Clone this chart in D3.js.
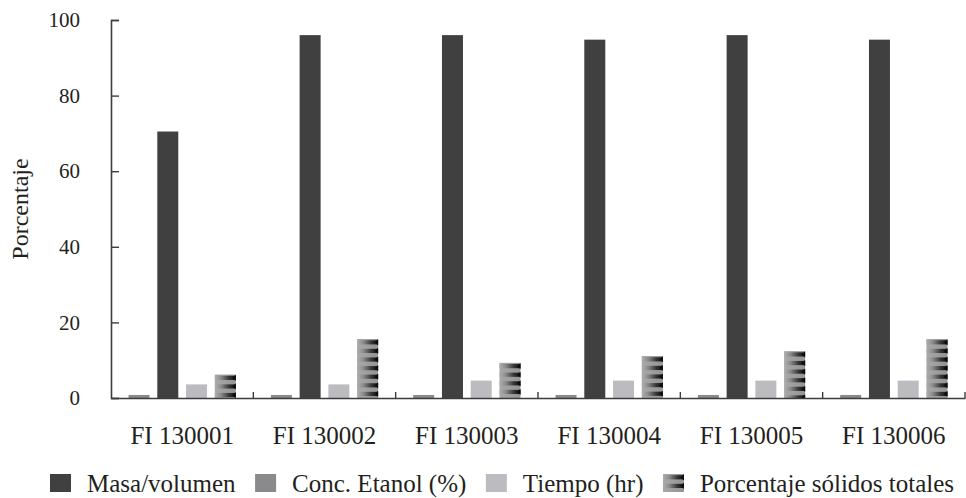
<!DOCTYPE html>
<html>
<head>
<meta charset="utf-8">
<script src="https://cdn.jsdelivr.net/npm/d3@7"></script>
</head>
<body style="margin:0">
<svg id="fig" width="966" height="498"></svg>
<script>
// Sample codes on the horizontal axis
const categories = ["FI 130001", "FI 130002", "FI 130003", "FI 130004", "FI 130005", "FI 130006"];

// Measured values per sample
const masaVolumen    = [70.5, 96, 96, 94.8, 96, 94.8];
const concEtanol     = [0.8, 0.8, 0.8, 0.8, 0.8, 0.8];
const tiempoHr       = [3.6, 3.6, 4.6, 4.6, 4.6, 4.6];
const solidosTotales = [6.2, 15.6, 9.3, 11.1, 12.4, 15.6];

// Axis ticks
const yTicks = [0, 20, 40, 60, 80, 100];

// Series in legend order
const seriesNames = ["Masa/volumen", "Conc. Etanol (%)", "Tiempo (hr)", "Porcentaje sólidos totales"];
const seriesValues = [masaVolumen, concEtanol, tiempoHr, solidosTotales];
// Order of the bars inside each cluster
const barOrder = ["Conc. Etanol (%)", "Masa/volumen", "Tiempo (hr)", "Porcentaje sólidos totales"];

const fills = {
  "Masa/volumen": "#404040",
  "Conc. Etanol (%)": "#8a8a8c",
  "Tiempo (hr)": "#bcbcc0",
  "Porcentaje sólidos totales": "striped"
};

const FONT = `"Liberation Serif"`;
const INK = "#231f20";

// Applies the serif face to a text selection
function serif(sel, size) {
  sel.attr("font-size", size)
    .style("font-family", FONT, "important")
    .style("font-size", size + "px", "important")
    .attr("fill", INK);
}

const series = seriesNames.map((name, i) => ({ name, values: seriesValues[i] }));

const svg = d3.select("#fig");
const plot = { left: 111, right: 965, top: 20, bottom: 398 };

const x0 = d3.scaleBand().domain(categories).range([plot.left, plot.right]).padding(0);
const x1 = d3.scaleBand().domain(barOrder).range([0, x0.bandwidth()])
  .paddingInner(0.27).paddingOuter(0.61);
const y = d3.scaleLinear().domain([0, 100]).range([plot.bottom, plot.top]);

// Gradients used by the "sólidos totales" fill
const defs = svg.append("defs");
const grad = defs.append("linearGradient").attr("id", "stripeGrad")
  .attr("x1", "0%").attr("x2", "100%").attr("y1", "0%").attr("y2", "0%");
grad.append("stop").attr("offset", "0%").attr("stop-color", "#b0b0b0");
grad.append("stop").attr("offset", "30%").attr("stop-color", "#8a8a8a");
grad.append("stop").attr("offset", "70%").attr("stop-color", "#333");
grad.append("stop").attr("offset", "100%").attr("stop-color", "#111");

const baseGrad = defs.append("linearGradient").attr("id", "baseGrad")
  .attr("x1", "0%").attr("x2", "100%").attr("y1", "0%").attr("y2", "0%");
baseGrad.append("stop").attr("offset", "0%").attr("stop-color", "#a8a8a8");
baseGrad.append("stop").attr("offset", "100%").attr("stop-color", "#949494");

const STRIPE_PERIOD = 8.6;
const STRIPE_H = 4.2;

// Draws a striped block (bar or legend swatch) inside the given box
function stripedBlock(g, bx, by, bw, bh) {
  g.append("rect").attr("x", bx).attr("y", by).attr("width", bw).attr("height", bh)
    .attr("fill", "url(#baseGrad)");
  const starts = d3.range(by + 1.2, by + bh - 1.5, STRIPE_PERIOD);
  g.selectAll(null).data(starts).join("rect")
    .attr("x", bx).attr("y", d => d)
    .attr("width", bw).attr("height", d => Math.min(STRIPE_H, by + bh - d))
    .attr("fill", "url(#stripeGrad)");
  g.selectAll(null).data(starts).join("path")
    .attr("d", d => {
      const h = Math.min(STRIPE_H, by + bh - d);
      return `M${bx + bw},${d - 1} L${bx + bw - 3.5},${d + h / 2} L${bx + bw},${d + h + 1} Z`;
    })
    .attr("fill", "#0d0d0d");
}

// Bars
const groups = svg.append("g").selectAll("g")
  .data(categories)
  .join("g")
  .attr("transform", d => `translate(${x0(d)},0)`);

groups.each(function (cat, ci) {
  const g = d3.select(this);
  series.forEach(s => {
    const v = s.values[ci];
    const bx = x1(s.name), bw = x1.bandwidth();
    const by = y(v), bh = y(0) - y(v);
    if (fills[s.name] === "striped") {
      stripedBlock(g.append("g"), bx, by, bw, bh);
    } else {
      g.append("rect").attr("x", bx).attr("y", by).attr("width", bw).attr("height", bh)
        .attr("fill", fills[s.name]);
    }
  });
});

// Y axis with inward ticks
const yAxis = svg.append("g").attr("transform", `translate(${plot.left},0)`)
  .call(d3.axisLeft(y).tickValues(yTicks).tickSize(-8).tickPadding(31).tickFormat(d3.format("d")));
yAxis.attr("font-family", null).attr("font-size", null);
yAxis.select(".domain").attr("stroke", "#3c3c3c").attr("stroke-width", 1.6);
yAxis.selectAll(".tick line").attr("stroke", "#3c3c3c").attr("stroke-width", 1.4);
serif(yAxis.selectAll(".tick text"), 21);

// X axis: labels at cluster centres, ticks at cluster boundaries
const xAxis = svg.append("g").attr("transform", `translate(0,${plot.bottom})`)
  .call(d3.axisBottom(x0).tickSize(0).tickPadding(28));
xAxis.attr("font-family", null).attr("font-size", null);
xAxis.select(".domain").attr("stroke", "#3c3c3c").attr("stroke-width", 1.6);
serif(xAxis.selectAll(".tick text"), 25);

svg.append("g").selectAll("line")
  .data(categories)
  .join("line")
  .attr("x1", d => x0(d) + x0.bandwidth()).attr("x2", d => x0(d) + x0.bandwidth())
  .attr("y1", plot.bottom).attr("y2", plot.bottom - 6)
  .attr("stroke", "#3c3c3c").attr("stroke-width", 1.4);

// Y axis title
svg.append("text")
  .attr("transform", `translate(28,${(plot.top + plot.bottom) / 2}) rotate(-90)`)
  .attr("text-anchor", "middle")
  .call(serif, 24)
  .text("Porcentaje");

// Legend
const legend = svg.append("g");
const items = legend.selectAll("g").data(seriesNames).join("g");
const SW = 21, SH = 18, GAP = 16, SPACING = 19.5;
items.append("text")
  .call(serif, 25)
  .attr("x", SW + GAP).attr("y", 17.5).text(d => d);
const widths = [];
items.each(function () {
  widths.push(SW + GAP + d3.select(this).select("text").node().getComputedTextLength());
});
items.attr("transform", (d, i) => {
  const tx = 50 + d3.sum(widths.slice(0, i)) + SPACING * i;
  return `translate(${tx},474)`;
});
items.each(function (d) {
  const g = d3.select(this);
  if (fills[d] === "striped") {
    stripedBlock(g.insert("g", "text"), 0, 0, SW, SH);
  } else {
    g.insert("rect", "text").attr("width", SW).attr("height", SH).attr("fill", fills[d]);
  }
});
</script>
</body>
</html>
